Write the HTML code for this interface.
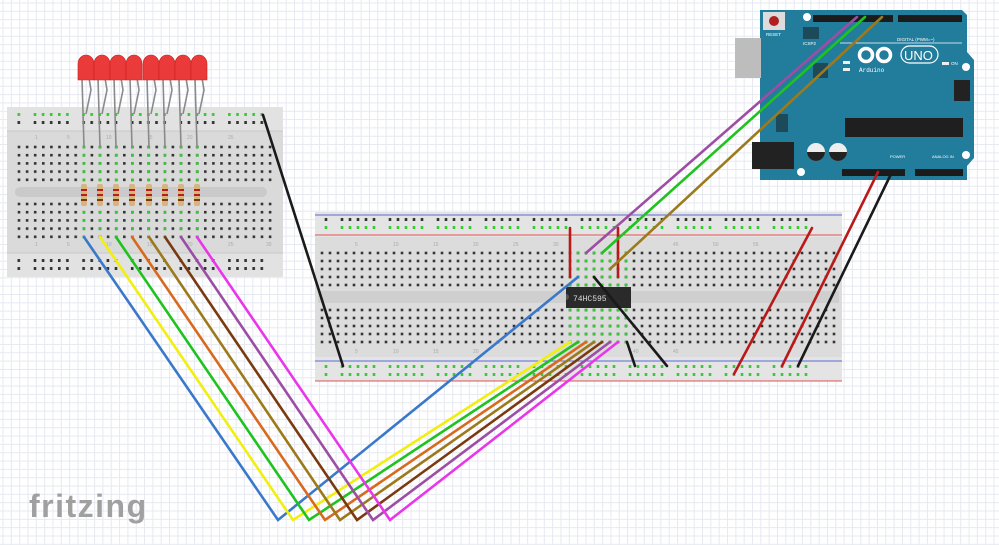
<!DOCTYPE html>
<html><head><meta charset="utf-8"><style>
html,body{margin:0;padding:0;width:999px;height:545px;overflow:hidden;background:#fff}
#bg{position:absolute;left:0;top:0;width:999px;height:545px;
background-image:linear-gradient(to right,#e6e9f1 1px,transparent 1px),linear-gradient(to bottom,#e6e9f1 1px,transparent 1px);
background-size:8.33px 8.33px;background-position:2.5px 2.5px}
svg{position:absolute;left:0;top:0}
</style></head><body><div id="bg"></div>
<svg width="999" height="545" viewBox="0 0 999 545" xmlns="http://www.w3.org/2000/svg" font-family="Liberation Sans, sans-serif">
<defs>
<pattern id="sD" patternUnits="userSpaceOnUse" x="17.7" y="145.7" width="8.1" height="8.2"><rect width="2.6" height="2.6" fill="#333"/></pattern>
<pattern id="sG" patternUnits="userSpaceOnUse" x="17.7" y="145.7" width="8.1" height="8.2"><rect width="2.6" height="2.6" fill="#3c3"/></pattern>
<pattern id="sD2" patternUnits="userSpaceOnUse" x="17.7" y="202.7" width="8.1" height="8.2"><rect width="2.6" height="2.6" fill="#333"/></pattern>
<pattern id="sG2" patternUnits="userSpaceOnUse" x="17.7" y="202.7" width="8.1" height="8.2"><rect width="2.6" height="2.6" fill="#3c3"/></pattern>
<pattern id="sR" patternUnits="userSpaceOnUse" x="33.7" y="0" width="48.6" height="545"><rect x="0" width="2.6" height="545" fill="#333"/><rect x="8.1" width="2.6" height="545" fill="#333"/><rect x="16.2" width="2.6" height="545" fill="#333"/><rect x="24.3" width="2.6" height="545" fill="#333"/><rect x="32.4" width="2.6" height="545" fill="#333"/></pattern>
<pattern id="sRG" patternUnits="userSpaceOnUse" x="33.7" y="0" width="48.6" height="545"><rect x="0" width="2.6" height="545" fill="#3c3"/><rect x="8.1" width="2.6" height="545" fill="#3c3"/><rect x="16.2" width="2.6" height="545" fill="#3c3"/><rect x="24.3" width="2.6" height="545" fill="#3c3"/><rect x="32.4" width="2.6" height="545" fill="#3c3"/></pattern>
<pattern id="bD" patternUnits="userSpaceOnUse" x="544.7" y="251.7" width="8" height="8"><rect width="2.6" height="2.6" fill="#333"/></pattern>
<pattern id="bG" patternUnits="userSpaceOnUse" x="544.7" y="251.7" width="8" height="8"><rect width="2.6" height="2.6" fill="#3c3"/></pattern>
<pattern id="bD2" patternUnits="userSpaceOnUse" x="544.7" y="308.7" width="8" height="8"><rect width="2.6" height="2.6" fill="#333"/></pattern>
<pattern id="bG2" patternUnits="userSpaceOnUse" x="544.7" y="308.7" width="8" height="8"><rect width="2.6" height="2.6" fill="#3c3"/></pattern>
<pattern id="bR" patternUnits="userSpaceOnUse" x="340.7" y="0" width="48" height="545"><rect x="0" width="2.6" height="545" fill="#333"/><rect x="8" width="2.6" height="545" fill="#333"/><rect x="16" width="2.6" height="545" fill="#333"/><rect x="24" width="2.6" height="545" fill="#333"/><rect x="32" width="2.6" height="545" fill="#333"/></pattern>
<pattern id="bRG" patternUnits="userSpaceOnUse" x="340.7" y="0" width="48" height="545"><rect x="0" width="2.6" height="545" fill="#3c3"/><rect x="8" width="2.6" height="545" fill="#3c3"/><rect x="16" width="2.6" height="545" fill="#3c3"/><rect x="24" width="2.6" height="545" fill="#3c3"/><rect x="32" width="2.6" height="545" fill="#3c3"/></pattern>
</defs>

<!-- small breadboard -->
<rect x="7" y="107" width="276" height="170" fill="#dadada"/>
<rect x="7" y="107" width="276" height="24" fill="#e2e2e2"/>
<rect x="7" y="253" width="276" height="24" fill="#e2e2e2"/>
<line x1="7" y1="131" x2="283" y2="131" stroke="#c8c8c8"/>
<line x1="7" y1="253" x2="283" y2="253" stroke="#c8c8c8"/>
<rect x="15" y="187" width="252" height="10" rx="5" fill="#cacaca"/>
<rect x="17" y="113" width="256" height="3" fill="url(#sRG)"/>
<rect x="17" y="121" width="256" height="3" fill="url(#sR)"/>
<rect x="17" y="259" width="256" height="3" fill="url(#sR)"/>
<rect x="17" y="267" width="256" height="3" fill="url(#sR)"/>
<rect x="17" y="145" width="256" height="37" fill="url(#sD)"/>
<rect x="17" y="202" width="256" height="37" fill="url(#sD2)"/>
<g>
<rect x="82" y="145" width="4" height="37" fill="url(#sG)"/><rect x="98" y="145" width="4" height="37" fill="url(#sG)"/><rect x="114" y="145" width="4" height="37" fill="url(#sG)"/><rect x="130" y="145" width="4" height="37" fill="url(#sG)"/><rect x="147" y="145" width="4" height="37" fill="url(#sG)"/><rect x="163" y="145" width="4" height="37" fill="url(#sG)"/><rect x="179" y="145" width="4" height="37" fill="url(#sG)"/><rect x="195" y="145" width="4" height="37" fill="url(#sG)"/>
<rect x="82" y="202" width="4" height="37" fill="url(#sG2)"/><rect x="98" y="202" width="4" height="37" fill="url(#sG2)"/><rect x="114" y="202" width="4" height="37" fill="url(#sG2)"/><rect x="130" y="202" width="4" height="37" fill="url(#sG2)"/><rect x="147" y="202" width="4" height="37" fill="url(#sG2)"/><rect x="163" y="202" width="4" height="37" fill="url(#sG2)"/><rect x="179" y="202" width="4" height="37" fill="url(#sG2)"/><rect x="195" y="202" width="4" height="37" fill="url(#sG2)"/>
</g>
<g font-size="5" fill="#aaa"><text x="35" y="139">1</text><text x="67" y="139">5</text><text x="106" y="139">10</text><text x="147" y="139">15</text><text x="187" y="139">20</text><text x="228" y="139">25</text><text x="35" y="246">1</text><text x="67" y="246">5</text><text x="106" y="246">10</text><text x="147" y="246">15</text><text x="187" y="246">20</text><text x="228" y="246">25</text><text x="266" y="246">30</text></g>

<!-- LEDs legs -->
<g stroke="#8a8a8a" stroke-width="1.6" fill="none">
<path d="M82 78 L84 147 M89 78 L91 90 L86 114"/>
<path d="M98 78 L100 147 M105 78 L107 90 L102 114"/>
<path d="M114 78 L116 147 M121 78 L123 90 L118 114"/>
<path d="M130 78 L132 147 M137 78 L139 90 L134 114"/>
<path d="M147 78 L149 147 M154 78 L156 90 L151 114"/>
<path d="M163 78 L165 147 M170 78 L172 90 L167 114"/>
<path d="M179 78 L181 147 M186 78 L188 90 L183 114"/>
<path d="M195 78 L197 147 M202 78 L204 90 L199 114"/>
</g>
<g fill="#ea3a3a" stroke="#c82020" stroke-width="0.6">
<path d="M78 80 V64 a8 9 0 0 1 16 0 V80 Z"/><path d="M94 80 V64 a8 9 0 0 1 16 0 V80 Z"/><path d="M110 80 V64 a8 9 0 0 1 16 0 V80 Z"/><path d="M126 80 V64 a8 9 0 0 1 16 0 V80 Z"/><path d="M143 80 V64 a8 9 0 0 1 16 0 V80 Z"/><path d="M159 80 V64 a8 9 0 0 1 16 0 V80 Z"/><path d="M175 80 V64 a8 9 0 0 1 16 0 V80 Z"/><path d="M191 80 V64 a8 9 0 0 1 16 0 V80 Z"/>
</g>
<!-- resistors -->
<g>
<g id="r"><rect x="81" y="184" width="6" height="22" rx="2" fill="#d9b47c"/><rect x="81" y="189" width="6" height="2" fill="#b02020"/><rect x="81" y="194" width="6" height="2" fill="#b02020"/><rect x="81" y="199" width="6" height="2" fill="#7a3a10"/></g>
<use href="#r" x="16"/><use href="#r" x="32"/><use href="#r" x="48"/><use href="#r" x="65"/><use href="#r" x="81"/><use href="#r" x="97"/><use href="#r" x="113"/>
</g>

<!-- big breadboard -->
<rect x="315" y="212" width="527" height="169" fill="#dcdcdc"/>
<rect x="315" y="212" width="527" height="25" fill="#e4e4e4"/>
<rect x="315" y="357" width="527" height="24" fill="#e4e4e4"/>
<line x1="315" y1="215" x2="842" y2="215" stroke="#5a6ad8"/>
<line x1="315" y1="235" x2="842" y2="235" stroke="#e05050"/>
<line x1="315" y1="361" x2="842" y2="361" stroke="#5a6ad8"/>
<line x1="315" y1="381" x2="842" y2="381" stroke="#e05050"/>
<rect x="318" y="291" width="521" height="12" fill="#cfcfcf"/>
<rect x="320" y="218" width="500" height="3" fill="url(#bR)"/>
<rect x="320" y="226" width="500" height="3" fill="url(#bRG)"/>
<rect x="320" y="365" width="500" height="3" fill="url(#bRG)"/>
<rect x="320" y="373" width="500" height="3" fill="url(#bRG)"/>
<rect x="320" y="251" width="516" height="37" fill="url(#bD)"/>
<rect x="320" y="308" width="516" height="37" fill="url(#bD2)"/>
<rect x="568" y="251" width="60" height="37" fill="url(#bG)"/>
<rect x="568" y="308" width="60" height="37" fill="url(#bG2)"/>
<g font-size="5" fill="#aaa"><text x="355" y="246">5</text><text x="393" y="246">10</text><text x="433" y="246">15</text><text x="473" y="246">20</text><text x="513" y="246">25</text><text x="553" y="246">30</text><text x="673" y="246">45</text><text x="713" y="246">50</text><text x="753" y="246">55</text><text x="355" y="353">5</text><text x="393" y="353">10</text><text x="433" y="353">15</text><text x="473" y="353">20</text><text x="633" y="353">40</text><text x="673" y="353">45</text></g>
<!-- chip -->
<rect x="566" y="287" width="65" height="21" fill="#2a2a2a"/>
<text x="573" y="301" font-size="8" fill="#ddd" font-family="Liberation Mono, monospace">74HC595</text>
<path d="M566 294 a3 3 0 0 1 0 6" fill="#555"/>

<!-- Arduino -->
<path d="M760 10 H962 L967 15 V52 L974 60 V158 L967 166 V180 H760 Z" fill="#227c9c"/>
<rect x="735" y="38" width="26" height="40" fill="#bdbdbd"/>
<rect x="752" y="142" width="42" height="27" fill="#222"/>
<rect x="763" y="12" width="22" height="18" fill="#dcdcdc"/><circle cx="774" cy="21" r="5" fill="#b02020"/>
<text x="766" y="36" font-size="4.5" fill="#fff">RESET</text>
<rect x="803" y="27" width="16" height="12" fill="#1c4a5a"/>
<text x="803" y="45" font-size="4.5" fill="#fff">ICSP2</text>
<rect x="813" y="15" width="80" height="7" fill="#1b1b1b"/>
<rect x="898" y="15" width="64" height="7" fill="#1b1b1b"/>
<text x="897" y="41" font-size="4.5" fill="#fff">DIGITAL (PWM=~)</text>
<line x1="840" y1="43" x2="962" y2="43" stroke="#fff" stroke-width="0.8"/>
<rect x="813" y="63" width="15" height="15" fill="#1c4a5a"/>
<g fill="none" stroke="#fff" stroke-width="3.5"><circle cx="866" cy="55" r="6.5"/><circle cx="884" cy="55" r="6.5"/></g>
<rect x="901" y="46" width="37" height="17" rx="8.5" fill="none" stroke="#fff" stroke-width="1.2"/>
<text x="904" y="60" font-size="13" fill="#fff">UNO</text>
<text x="859" y="72" font-size="6" fill="#fff" font-family="Liberation Mono, monospace">Arduino</text>
<rect x="843" y="61" width="7" height="3" fill="#eee"/><rect x="843" y="68" width="7" height="3" fill="#eee"/>
<rect x="942" y="62" width="7" height="3" fill="#eee"/><text x="951" y="65" font-size="4.5" fill="#fff">ON</text>
<circle cx="966" cy="67" r="4" fill="#fff"/><circle cx="807" cy="17" r="4" fill="#fff"/><circle cx="801" cy="172" r="4" fill="#fff"/><circle cx="966" cy="155" r="4" fill="#fff"/>
<rect x="954" y="80" width="16" height="21" fill="#222"/>
<rect x="776" y="114" width="12" height="18" fill="#1c4a5a"/>
<rect x="845" y="118" width="118" height="19" fill="#1f1f1f"/>
<circle cx="816" cy="152" r="9" fill="#eee"/><path d="M807 152 a9 9 0 0 0 18 0 Z" fill="#222"/>
<circle cx="838" cy="152" r="9" fill="#eee"/><path d="M829 152 a9 9 0 0 0 18 0 Z" fill="#222"/>
<rect x="842" y="169" width="63" height="7" fill="#1b1b1b"/>
<rect x="915" y="169" width="48" height="7" fill="#1b1b1b"/>
<text x="890" y="158" font-size="4" fill="#fff">POWER</text><text x="932" y="158" font-size="4" fill="#fff">ANALOG IN</text>

<!-- wires -->
<g fill="none" stroke-width="2.6" stroke-linecap="round">
<line x1="263" y1="115" x2="343" y2="366" stroke="#1a1a1a"/>
<polyline points="84,237 278,520 578,277" stroke="#3a78c9"/>
<polyline points="100,237 293,520 570,342" stroke="#f0ef10"/>
<polyline points="116,237 309,520 578,342" stroke="#1fc21f"/>
<polyline points="132,237 325,520 586,342" stroke="#d86a1e"/>
<polyline points="149,237 340,520 594,342" stroke="#9c7a1c"/>
<polyline points="165,237 357,520 602,342" stroke="#7a3a10"/>
<polyline points="181,237 373,520 610,342" stroke="#9c4ea4"/>
<polyline points="197,237 390,520 618,342" stroke="#ea36ea"/>
<line x1="570" y1="228" x2="570" y2="277" stroke="#b81a1a"/>
<line x1="618" y1="228" x2="618" y2="277" stroke="#b81a1a"/>
<line x1="586" y1="253" x2="857" y2="17" stroke="#9c4ea4"/>
<line x1="602" y1="253" x2="865" y2="17" stroke="#1fc21f"/>
<line x1="610" y1="269" x2="882" y2="17" stroke="#9c7a1c"/>
<line x1="594" y1="277" x2="667" y2="366" stroke="#1a1a1a"/>
<line x1="627" y1="342" x2="635" y2="366" stroke="#1a1a1a"/>
<line x1="812" y1="228" x2="734" y2="374" stroke="#b81a1a"/>
<line x1="878" y1="172" x2="782" y2="366" stroke="#b81a1a"/>
<line x1="892" y1="172" x2="798" y2="366" stroke="#1a1a1a"/>
</g>

<text x="29" y="517" font-size="32" fill="#a0a0a0" font-weight="bold" letter-spacing="1.5">fritzing</text>
</svg>
</body></html>
